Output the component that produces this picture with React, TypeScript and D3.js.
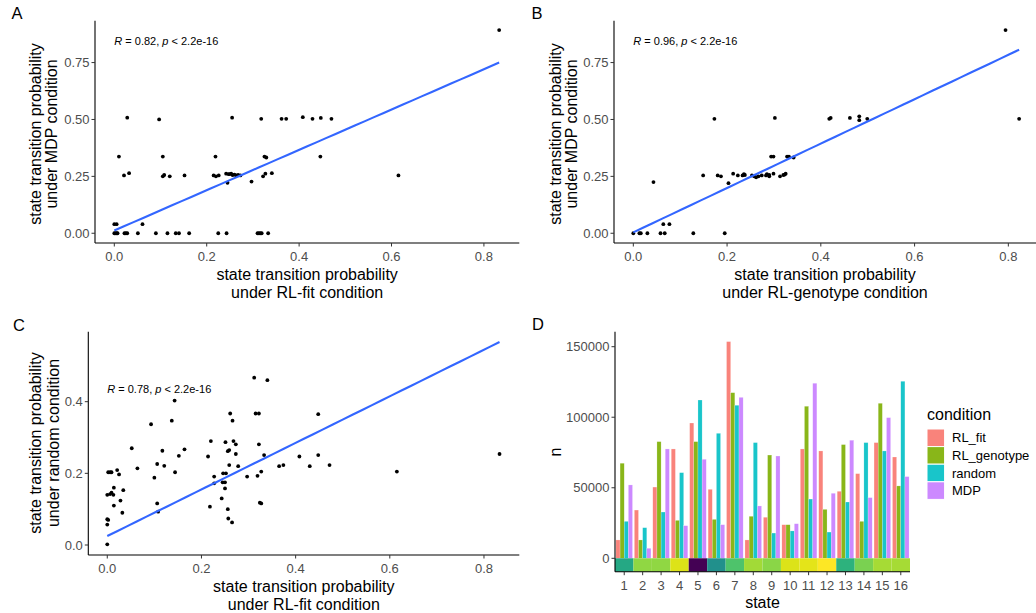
import React from "react";
import * as d3 from "d3";

const FONT = "'Liberation Sans', Arial, Helvetica, sans-serif";

// ---------- Panel A: RL-fit (x) vs MDP (y)
const pointsA: [number, number][] = [
  [0, 0], [0.002, 0], [0.005, 0], [0.007, 0], [0.022, 0], [0.025, 0], [0.028, 0], [0.051, 0], [0.09, 0],
  [0.115, 0], [0.133, 0], [0.14, 0], [0.162, 0], [0.225, 0], [0.243, 0], [0.31, 0], [0.313, 0], [0.316, 0],
  [0.319, 0], [0.333, 0],
  [0, 0.04], [0.005, 0.04], [0.061, 0.04],
  [0.021, 0.254], [0.032, 0.264], [0.105, 0.25], [0.108, 0.256], [0.12, 0.25], [0.152, 0.254], [0.215, 0.254],
  [0.22, 0.25], [0.226, 0.254], [0.242, 0.262], [0.245, 0.222], [0.247, 0.26], [0.25, 0.26], [0.253, 0.262],
  [0.256, 0.256], [0.26, 0.258], [0.264, 0.254], [0.268, 0.256], [0.273, 0.254], [0.297, 0.227], [0.322, 0.25],
  [0.327, 0.262], [0.341, 0.264], [0.615, 0.254],
  [0.01, 0.337], [0.105, 0.337], [0.219, 0.337], [0.325, 0.337], [0.329, 0.333], [0.446, 0.337],
  [0.028, 0.508], [0.097, 0.5], [0.255, 0.508], [0.318, 0.503], [0.362, 0.503], [0.372, 0.503], [0.408, 0.51],
  [0.429, 0.503], [0.447, 0.507], [0.47, 0.503],
  [0.833, 0.893],
];
const fitA = { intercept: 0.012, slope: 0.886, xMin: 0, xMax: 0.833 };

// ---------- Panel B: RL-genotype (x) vs MDP (y)
const pointsB: [number, number][] = [
  [0, 0], [0.013, 0], [0.016, 0], [0.03, 0], [0.058, 0], [0.067, 0], [0.128, 0], [0.195, 0],
  [0.064, 0.04], [0.077, 0.04],
  [0.043, 0.225],
  [0.149, 0.254], [0.18, 0.254], [0.187, 0.25], [0.203, 0.22], [0.213, 0.262], [0.223, 0.254], [0.233, 0.254],
  [0.236, 0.26], [0.238, 0.256], [0.253, 0.254], [0.258, 0.25], [0.262, 0.246], [0.267, 0.25], [0.274, 0.254],
  [0.283, 0.254], [0.285, 0.26], [0.29, 0.25], [0.29, 0.256], [0.299, 0.262], [0.313, 0.25], [0.32, 0.256],
  [0.323, 0.258], [0.325, 0.262],
  [0.294, 0.337], [0.299, 0.337], [0.328, 0.337], [0.332, 0.337], [0.342, 0.333],
  [0.173, 0.503], [0.302, 0.507], [0.418, 0.503], [0.421, 0.507], [0.462, 0.507], [0.482, 0.514],
  [0.482, 0.497], [0.499, 0.503], [0.823, 0.503],
  [0.794, 0.893],
];
const fitB = { intercept: 0.004, slope: 0.975, xMin: 0, xMax: 0.823 };

// ---------- Panel C: RL-fit (x) vs random (y)
const pointsC: [number, number][] = [
  [0, 0.002], [0, 0.057], [0.002, 0.07], [0, 0.072],
  [0, 0.14], [0.006, 0.142], [0.009, 0.146], [0.013, 0.14],
  [0.002, 0.203], [0.006, 0.203], [0.009, 0.203],
  [0.014, 0.16], [0.014, 0.11], [0.021, 0.209], [0.025, 0.197], [0.028, 0.124], [0.032, 0.09], [0.034, 0.153],
  [0.052, 0.27], [0.064, 0.214], [0.093, 0.337], [0.1, 0.188], [0.106, 0.226], [0.106, 0.116], [0.108, 0.093],
  [0.117, 0.263], [0.121, 0.221], [0.137, 0.347], [0.143, 0.403], [0.144, 0.203], [0.152, 0.249], [0.164, 0.267],
  [0.214, 0.247], [0.218, 0.107], [0.22, 0.29], [0.227, 0.191], [0.227, 0.172], [0.243, 0.13],
  [0.246, 0.2], [0.252, 0.2], [0.245, 0.175], [0.25, 0.175], [0.25, 0.158], [0.251, 0.287], [0.256, 0.1],
  [0.257, 0.074], [0.256, 0.262], [0.259, 0.265], [0.259, 0.223], [0.261, 0.367], [0.265, 0.063], [0.266, 0.347],
  [0.268, 0.29], [0.273, 0.281], [0.273, 0.254], [0.278, 0.22], [0.297, 0.191], [0.312, 0.467], [0.315, 0.367],
  [0.322, 0.367], [0.319, 0.193], [0.322, 0.281], [0.324, 0.118], [0.327, 0.116], [0.327, 0.205], [0.333, 0.251],
  [0.34, 0.46], [0.365, 0.22], [0.374, 0.223], [0.408, 0.247], [0.43, 0.22], [0.448, 0.365], [0.448, 0.251],
  [0.472, 0.223], [0.615, 0.205], [0.833, 0.254],
];
const fitC = { intercept: 0.025, slope: 0.65, xMin: 0, xMax: 0.833 };

// ---------- Panel D: counts per state and condition
const states = ["1", "2", "3", "4", "5", "6", "7", "8", "9", "10", "11", "12", "13", "14", "15", "16"];
const conditions = ["RL_fit", "RL_genotype", "random", "MDP"];
const conditionColors = ["#F8766D", "#7CAE00", "#00BFC4", "#C77CFF"];
const nRLfit = [13000, 34200, 50500, 77500, 95900, 48900, 153600, 13000, 29100, 23800, 77500, 76100, 47500, 60000, 82000, 71800];
const nRLgenotype = [67400, 13000, 82700, 26900, 82700, 27600, 117400, 29800, 73200, 23800, 107800, 34700, 80600, 26200, 109900, 51300];
const nRandom = [26200, 21700, 32800, 60700, 112200, 88600, 108500, 82000, 17900, 19400, 42000, 18600, 39900, 82000, 76100, 125500];
const nMDP = [52000, 7100, 77500, 23100, 70200, 23800, 114100, 37100, 72500, 24500, 124100, 46100, 83700, 43000, 99700, 57900];
const stateColors = ["#25A884", "#90D743", "#90D743", "#DDE318", "#440154", "#21908C", "#4EC36B", "#A2DA37",
  "#8AD647", "#DCE319", "#E4E419", "#FDE725", "#2DB27D", "#7AD151", "#A6DB35", "#A6DB35"];
const countTicks = [0, 50000, 100000, 150000];

type ScatterProps = {
  letter: string;
  letterX: number;
  letterY: number;
  points: [number, number][];
  fit: { intercept: number; slope: number; xMin: number; xMax: number };
  xDomain: [number, number];
  yDomain: [number, number];
  left: number;
  right: number;
  top: number;
  bottom: number;
  xTicks: number[];
  yTicks: number[];
  xFmt: (v: number) => string;
  yFmt: (v: number) => string;
  xTitle: [string, string];
  yTitle: [string, string];
  yTitleX: [number, number];
  yTitleY: number;
  annot: string;
  annotY: number;
};

function Scatter(p: ScatterProps) {
  const x = d3.scaleLinear().domain(p.xDomain).range([p.left, p.right]);
  const y = d3.scaleLinear().domain(p.yDomain).range([p.bottom, p.top]);
  const line = d3.line<number>().x((v) => x(v)).y((v) => y(p.fit.intercept + p.fit.slope * v));
  const xs = d3.range(0, 41).map((i) => p.fit.xMin + ((p.fit.xMax - p.fit.xMin) * i) / 40);
  const rParts = p.annot.split(/(R|p)(?= [=<])/);
  const cx = (p.left + p.right) / 2;
  return (
    <g>
      <text x={p.letterX} y={p.letterY} fontSize={16.5} fontFamily={FONT} fill="#000">{p.letter}</text>
      {p.points.map((d, i) => (
        <circle key={i} cx={x(d[0])} cy={y(d[1])} r={1.9} fill="#000" />
      ))}
      <path d={line(xs) || ""} fill="none" stroke="#3366FF" strokeWidth={2.1} />
      <text x={x(0)} y={y(p.annotY) + 4} fontSize={11} fontFamily={FONT} fill="#000">
        {rParts.map((s, i) =>
          s === "R" || s === "p" ? <tspan key={i} fontStyle="italic">{s}</tspan> : <tspan key={i}>{s}</tspan>
        )}
      </text>
      <line x1={p.left} x2={p.left} y1={p.top} y2={p.bottom} stroke="#000" strokeWidth={1.1} />
      <line x1={p.left} x2={p.right} y1={p.bottom} y2={p.bottom} stroke="#000" strokeWidth={1.1} />
      {p.xTicks.map((t) => (
        <g key={"x" + t}>
          <line x1={x(t)} x2={x(t)} y1={p.bottom} y2={p.bottom + 3.5} stroke="#333" strokeWidth={1} />
          <text x={x(t)} y={p.bottom + 17.5} textAnchor="middle" fontSize={13} fontFamily={FONT} fill="#4D4D4D">{p.xFmt(t)}</text>
        </g>
      ))}
      {p.yTicks.map((t) => (
        <g key={"y" + t}>
          <line x1={p.left - 3.5} x2={p.left} y1={y(t)} y2={y(t)} stroke="#333" strokeWidth={1} />
          <text x={p.left - 5.5} y={y(t) + 4.6} textAnchor="end" fontSize={13} fontFamily={FONT} fill="#4D4D4D">{p.yFmt(t)}</text>
        </g>
      ))}
      <text x={cx} y={p.bottom + 36.5} textAnchor="middle" fontSize={16} fontFamily={FONT} fill="#000">{p.xTitle[0]}</text>
      <text x={cx} y={p.bottom + 55} textAnchor="middle" fontSize={16} fontFamily={FONT} fill="#000">{p.xTitle[1]}</text>
      {p.yTitle.map((s, i) => (
        <text key={i} transform={`translate(${p.yTitleX[i]},${p.yTitleY}) rotate(-90)`} textAnchor="middle" fontSize={16} fontFamily={FONT} fill="#000">{s}</text>
      ))}
    </g>
  );
}

function Bars() {
  const left = 615, right = 910, top = 331.7, bottom = 571.7;
  const y = d3.scaleLinear().domain([-9500, 160630]).range([bottom, top]);
  const x = d3.scaleBand<string>().domain(states).range([left, right]).paddingInner(0.1).paddingOuter(0.05);
  const xi = d3.scaleBand<string>().domain(conditions).range([0, x.bandwidth()]);
  const series = [nRLfit, nRLgenotype, nRandom, nMDP];
  const step = x.step();
  const off = (step - x.bandwidth()) / 2;
  const legendX = 927, legendTop = 429, key = 17.6;
  return (
    <g>
      <text x={532} y={330} fontSize={16.5} fontFamily={FONT} fill="#000">D</text>
      {series.map((vals, ci) =>
        vals.map((v, si) => (
          <rect key={ci + "-" + si} x={(x(states[si]) as number) + (xi(conditions[ci]) as number)} y={y(v)}
            width={xi.bandwidth()} height={y(0) - y(v)} fill={conditionColors[ci]} fillOpacity={0.9}
            stroke="#fff" strokeOpacity={0.5} strokeWidth={0.4} />
        ))
      )}
      {states.map((s, i) => (
        <rect key={"st" + s} x={(x(s) as number) - off} y={y(0)} width={step} height={y(-9500) - y(0)} fill={stateColors[i]} />
      ))}
      <line x1={left} x2={left} y1={top} y2={bottom} stroke="#000" strokeWidth={1.1} />
      <line x1={left} x2={right} y1={bottom} y2={bottom} stroke="#000" strokeWidth={1.1} />
      {countTicks.map((t) => (
        <g key={"yt" + t}>
          <line x1={left - 3.5} x2={left} y1={y(t)} y2={y(t)} stroke="#333" strokeWidth={1} />
          <text x={left - 5.5} y={y(t) + 4.6} textAnchor="end" fontSize={13} fontFamily={FONT} fill="#4D4D4D">{t}</text>
        </g>
      ))}
      {states.map((s) => {
        const c = (x(s) as number) + x.bandwidth() / 2;
        return (
          <g key={"xt" + s}>
            <line x1={c} x2={c} y1={bottom} y2={bottom + 3.5} stroke="#333" strokeWidth={1} />
            <text x={c} y={bottom + 18} textAnchor="middle" fontSize={13} fontFamily={FONT} fill="#4D4D4D">{s}</text>
          </g>
        );
      })}
      <text x={(left + right) / 2} y={608} textAnchor="middle" fontSize={16} fontFamily={FONT} fill="#000">state</text>
      <text transform={`translate(560.7,452) rotate(-90)`} textAnchor="middle" fontSize={16} fontFamily={FONT} fill="#000">n</text>
      <text x={legendX} y={420} fontSize={16} fontFamily={FONT} fill="#000">condition</text>
      {conditions.map((c, i) => (
        <g key={"lg" + c}>
          <rect x={legendX} y={legendTop + i * key} width={key} height={key} fill={conditionColors[i]} fillOpacity={0.9} stroke="#fff" strokeWidth={1} />
          <text x={legendX + 25} y={legendTop + i * key + key / 2 + 4.6} fontSize={13} fontFamily={FONT} fill="#000">{c}</text>
        </g>
      ))}
    </g>
  );
}

const probTicks2 = [0, 0.25, 0.5, 0.75];
const probTicksX = [0, 0.2, 0.4, 0.6, 0.8];
const randTicks = [0, 0.2, 0.4];

export default function App() {
  return (
    <svg width={1036} height={613} viewBox="0 0 1036 613"
      style={{ position: "absolute", left: 0, top: 0, background: "#fff", display: "block" }}>
      <rect x={0} y={0} width={1036} height={613} fill="#fff" />
      <Scatter letter="A" letterX={11.5} letterY={19.3} points={pointsA} fit={fitA}
        xDomain={[-0.0418, 0.8766]} yDomain={[-0.0428, 0.934]} left={95} right={519.3} top={20.7} bottom={243}
        xTicks={probTicksX} yTicks={probTicks2} xFmt={(v) => v.toFixed(1)} yFmt={(v) => v.toFixed(2)}
        xTitle={["state transition probability", "under RL-fit condition"]}
        yTitle={["state transition probability", "under MDP condition"]} yTitleX={[40.5, 57.2]} yTitleY={134}
        annot="R = 0.82, p < 2.2e-16" annotY={0.845} />
      <Scatter letter="B" letterX={531.5} letterY={19.3} points={pointsB} fit={fitB}
        xDomain={[-0.0412, 0.859]} yDomain={[-0.0428, 0.934]} left={614} right={1036} top={20.7} bottom={243}
        xTicks={probTicksX} yTicks={probTicks2} xFmt={(v) => v.toFixed(1)} yFmt={(v) => v.toFixed(2)}
        xTitle={["state transition probability", "under RL-genotype condition"]}
        yTitle={["state transition probability", "under MDP condition"]} yTitleX={[560.5, 577.2]} yTitleY={134}
        annot="R = 0.96, p < 2.2e-16" annotY={0.845} />
      <Scatter letter="C" letterX={13} letterY={330.7} points={pointsC} fit={fitC}
        xDomain={[-0.0403, 0.875]} yDomain={[-0.0279, 0.5953]} left={88.3} right={519.3} top={331.7} bottom={555}
        xTicks={probTicksX} yTicks={randTicks} xFmt={(v) => v.toFixed(1)} yFmt={(v) => v.toFixed(1)}
        xTitle={["state transition probability", "under RL-fit condition"]}
        yTitle={["state transition probability", "under random condition"]} yTitleX={[40.5, 58.5]} yTitleY={443}
        annot="R = 0.78, p < 2.2e-16" annotY={0.435} />
      <Bars />
    </svg>
  );
}
